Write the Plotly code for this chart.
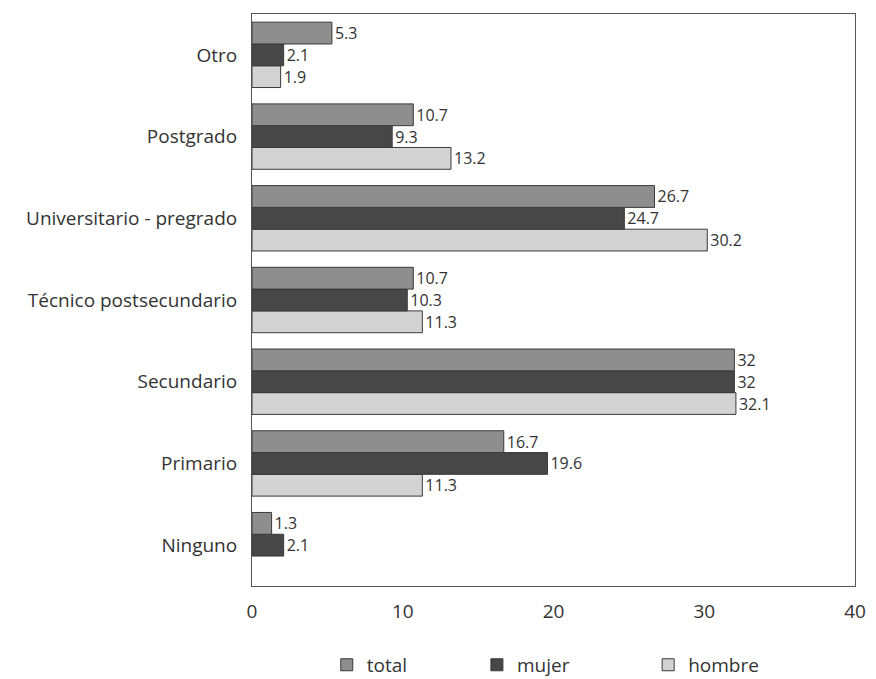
import plotly.graph_objects as go

categories = ["Ninguno", "Primario", "Secundario", "Técnico postsecundario",
              "Universitario - pregrado", "Postgrado", "Otro"]
total = [1.3, 16.7, 32, 10.7, 26.7, 10.7, 5.3]
mujer = [2.1, 19.6, 32, 10.3, 24.7, 9.3, 2.1]
hombre = [None, 11.3, 32.1, 11.3, 30.2, 13.2, 1.9]
x_ticks = [0, 10, 20, 30, 40]

series = [
    ("hombre", hombre, "#d3d3d3", "legend3"),
    ("mujer", mujer, "#474747", "legend2"),
    ("total", total, "#8e8e8e", "legend"),
]

fig = go.Figure()
for name, vals, color, leg in series:
    fig.add_trace(go.Bar(
        y=categories, x=vals, name=name, orientation="h",
        marker=dict(color=color, line=dict(color="#3a3a3a", width=1)),
        text=[("" if v is None else f"{v:g}") for v in vals],
        textposition="outside", cliponaxis=False, constraintext="none",
        textfont=dict(size=16, color="#333333"),
        legend=leg,
    ))

leg_common = dict(orientation="h", xanchor="left", yref="container", y=0.021,
                  yanchor="middle", font=dict(size=19), bgcolor="rgba(0,0,0,0)")

fig.update_layout(
    width=868, height=671,
    margin=dict(l=244, r=21, t=6, b=93, autoexpand=False),
    barmode="group", bargap=0.2, bargroupgap=0,
    plot_bgcolor="white", paper_bgcolor="white",
    font=dict(family="Open Sans, sans-serif", size=19, color="#333333"),
    showlegend=True,
    legend=dict(x=0.124, **leg_common),
    legend2=dict(x=0.373, **leg_common),
    legend3=dict(x=0.657, **leg_common),
)
fig.update_xaxes(range=[0, 40], tickvals=x_ticks, showgrid=False, zeroline=False,
                 showline=True, linecolor="#555555", linewidth=1, mirror=True,
                 ticks="outside", ticklen=8, tickcolor="rgba(0,0,0,0)",
                 tickfont=dict(size=19))
fig.update_yaxes(showgrid=False, showline=True, linecolor="#555555", linewidth=1,
                 mirror=True, ticks="outside", ticklen=10, tickcolor="rgba(0,0,0,0)",
                 tickfont=dict(size=19),
                 categoryorder="array", categoryarray=categories)

fig.write_html("out.html")
